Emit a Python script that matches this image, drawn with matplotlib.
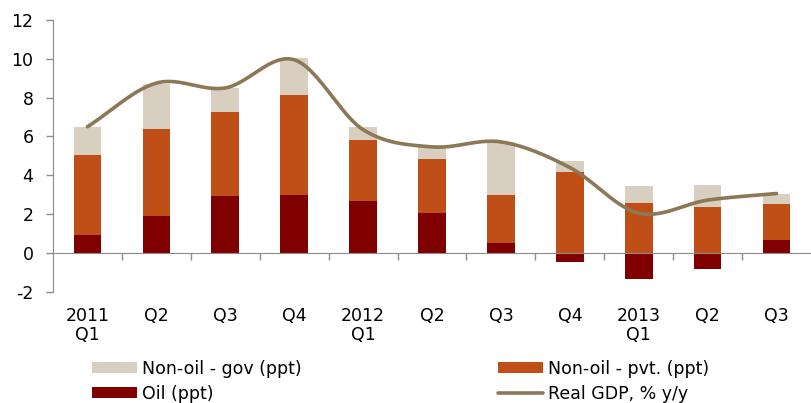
import numpy as np
import matplotlib
matplotlib.use('Agg')
import matplotlib.pyplot as plt
import matplotlib.transforms as mtransforms

plt.rcParams['font.family'] = ['DejaVu Sans']
plt.rcParams['axes.unicode_minus'] = False

quarters = ['2011\nQ1', 'Q2', 'Q3', 'Q4', '2012\nQ1', 'Q2', 'Q3', 'Q4', '2013\nQ1', 'Q2', 'Q3']
oil = [0.90, 1.90, 2.94, 2.97, 2.68, 2.03, 0.52, -0.46, -1.34, -0.82, 0.65]
nonoil_pvt = [4.14, 4.50, 4.31, 5.14, 3.13, 2.80, 2.45, 4.18, 2.58, 2.37, 1.88]
nonoil_gov = [1.46, 2.28, 1.27, 1.93, 0.67, 0.72, 2.73, 0.56, 0.87, 1.12, 0.51]
real_gdp = [6.5, 8.75, 8.5, 9.95, 6.35, 5.46, 5.72, 4.4, 2.05, 2.72, 3.06]

c_gov = '#d9cfc0'
c_pvt = '#bf4f16'
c_oil = '#800000'
c_gdp = '#8c7757'
c_axis = '#8c8c8c'


def smooth_line(x, y, n=30):
    # Catmull-Rom curve, similar to Excel's smoothed line
    x = np.asarray(x, float)
    y = np.asarray(y, float)
    px = np.concatenate([[2 * x[0] - x[1]], x, [2 * x[-1] - x[-2]]])
    py = np.concatenate([[2 * y[0] - y[1]], y, [2 * y[-1] - y[-2]]])
    xs, ys = [], []
    t = np.linspace(0, 1, n)
    for i in range(1, len(px) - 2):
        for p, out in ((px, xs), (py, ys)):
            p0, p1, p2, p3 = p[i - 1], p[i], p[i + 1], p[i + 2]
            out.extend(0.5 * (2 * p1 + (-p0 + p2) * t
                              + (2 * p0 - 5 * p1 + 4 * p2 - p3) * t ** 2
                              + (-p0 + 3 * p1 - 3 * p2 + p3) * t ** 3))
    return np.array(xs), np.array(ys)


fig = plt.figure(figsize=(8.11, 4.03), dpi=100)
ax = fig.add_axes([53 / 811, 1 - 291.7 / 403, 1 - 53 / 811, (291.7 - 20) / 403])

x = np.arange(len(quarters))
oil = np.array(oil)
pvt = np.array(nonoil_pvt)
gov = np.array(nonoil_gov)
pos_oil = np.clip(oil, 0, None)

w = 0.40
bar_oil = ax.bar(x, oil, w, color=c_oil, label='Oil (ppt)', zorder=2)
bar_pvt = ax.bar(x, pvt, w, bottom=pos_oil, color=c_pvt, label='Non-oil - pvt. (ppt)', zorder=2)
bar_gov = ax.bar(x, gov, w, bottom=pos_oil + pvt, color=c_gov, label='Non-oil - gov (ppt)', zorder=2)

sx, sy = smooth_line(x, real_gdp)
line_gdp, = ax.plot(sx, sy, color=c_gdp, lw=2.6, label='Real GDP, % y/y', zorder=3,
                    solid_capstyle='round')

ax.set_xlim(-0.5, len(quarters) - 0.5)
ax.set_ylim(-2, 12)
ax.set_yticks(np.arange(-2, 13, 2))
ax.tick_params(axis='y', labelsize=12.5, length=5, color=c_axis, width=1, pad=9)

ax.spines['top'].set_visible(False)
ax.spines['right'].set_visible(False)
ax.spines['left'].set_color(c_axis)
ax.spines['bottom'].set_color(c_axis)
ax.spines['bottom'].set_position(('data', 0))
ax.spines['bottom'].set_zorder(4)

ax.set_xticks(np.arange(0.5, len(quarters) - 0.5, 1))
ax.set_xticklabels([])
ax.tick_params(axis='x', length=5, color=c_axis, width=1)

trans = mtransforms.blended_transform_factory(ax.transData, ax.transAxes)
for xi, lab in zip(x, quarters):
    ax.text(xi, -0.055, lab, transform=trans, ha='center', va='top',
            fontsize=12.5, linespacing=1.1)

# legend: row 1 gov | pvt, row 2 oil | gdp (matplotlib fills column-wise)
fig.legend([bar_gov, bar_oil, bar_pvt, line_gdp],
           ['Non-oil - gov (ppt)', 'Oil (ppt)', 'Non-oil - pvt. (ppt)', 'Real GDP, % y/y'],
           loc='lower left', bbox_to_anchor=(80 / 811, -0.03), ncol=2,
           frameon=False, fontsize=12.5, handlelength=2.6, handleheight=0.6,
           handletextpad=0.25, columnspacing=11.35, labelspacing=0.4,
           borderpad=0.2)

fig.savefig('out.png', dpi=100)
